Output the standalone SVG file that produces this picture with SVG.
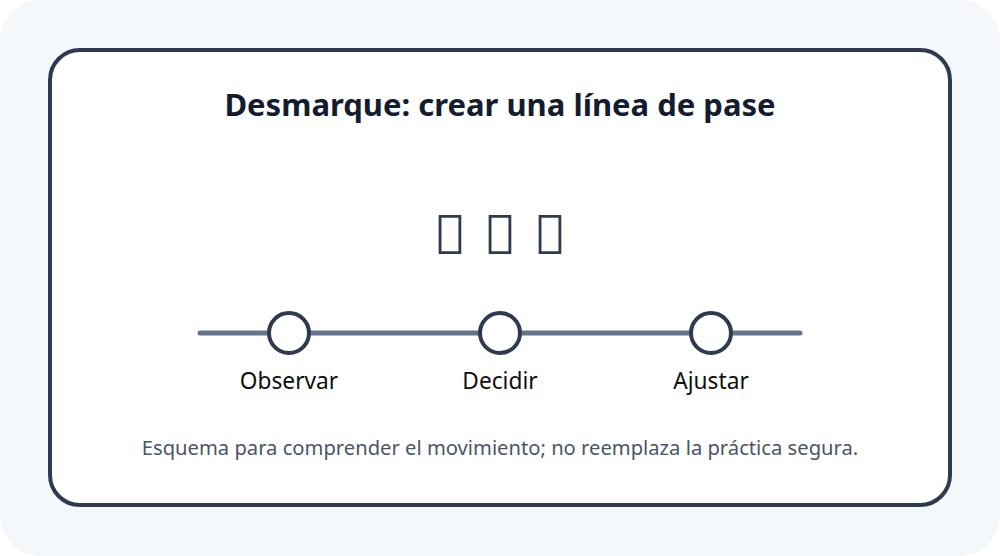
<svg xmlns="http://www.w3.org/2000/svg" width="1000" height="556" viewBox="0 0 1000 556">
  <style>
    .title { font-family: "Noto Sans", "Open Sans", sans-serif; font-size: 31px; font-weight: 700; fill: #141c30; }
    .icon { font-family: "Noto Sans", sans-serif; font-size: 55px; fill: #2d3a4f; }
    .label { font-family: "Noto Sans", "Open Sans", sans-serif; font-size: 22.7px; fill: #0f0f0f; }
    .note { font-family: "Noto Sans", "Open Sans", sans-serif; font-size: 20.2px; fill: #4a5568; }
    .node { fill: #ffffff; stroke: #2d3a4f; stroke-width: 4; }
    .track { stroke: #64748b; stroke-width: 5; stroke-linecap: round; fill: none; }
  </style>
  <rect x="0" y="0" width="1000" height="556" rx="40" fill="#f5f8fb"/>
  <rect x="50" y="50" width="900" height="455" rx="30" fill="#ffffff" stroke="#2d3a4f" stroke-width="4"/>
  <text class="title" x="500" y="116" text-anchor="middle">Desmarque: crear una línea de pase</text>
  <g id="icons">
    <text class="icon" x="450" y="254" text-anchor="middle">&#xE000;</text>
    <text class="icon" x="500" y="254" text-anchor="middle">&#xE000;</text>
    <text class="icon" x="550" y="254" text-anchor="middle">&#xE000;</text>
  </g>
  <g id="connectors">
    <line class="track" x1="200" y1="333" x2="800" y2="333"/>
  </g>
  <g id="observar">
    <circle class="node" cx="289" cy="333" r="20"/>
    <text class="label" x="289" y="389" text-anchor="middle">Observar</text>
  </g>
  <g id="decidir">
    <circle class="node" cx="500" cy="333" r="20"/>
    <text class="label" x="500" y="389" text-anchor="middle">Decidir</text>
  </g>
  <g id="ajustar">
    <circle class="node" cx="711" cy="333" r="20"/>
    <text class="label" x="711" y="389" text-anchor="middle">Ajustar</text>
  </g>
  <text class="note" x="500" y="455" text-anchor="middle">Esquema para comprender el movimiento; no reemplaza la práctica segura.</text>
</svg>
